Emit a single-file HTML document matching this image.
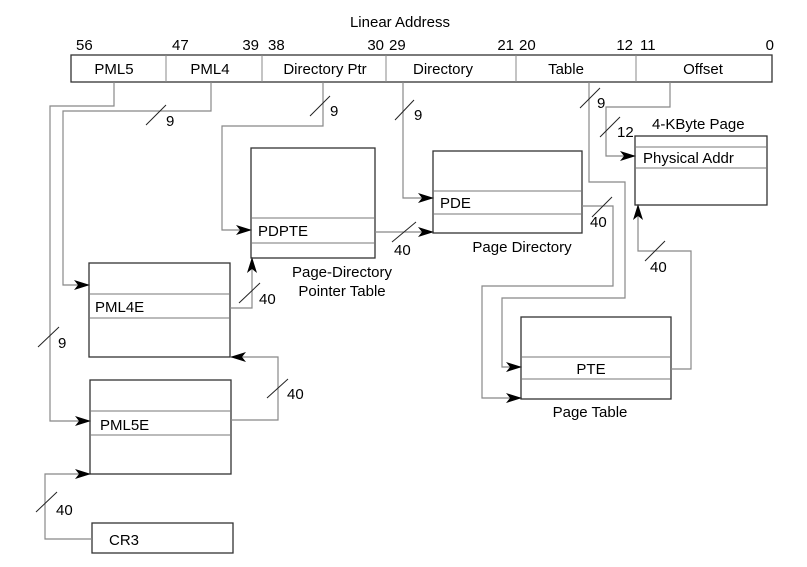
<!DOCTYPE html>
<html><head><meta charset="utf-8"><style>
html,body{margin:0;padding:0;background:#fff;}
svg{display:block;}
text{font-family:"Liberation Sans",Arial,sans-serif;font-size:15px;fill:#000;}
</style></head><body>
<svg width="807" height="567" viewBox="0 0 807 567" xmlns="http://www.w3.org/2000/svg">
<defs>
<marker id="a" markerWidth="16" markerHeight="10" refX="15" refY="5" orient="auto" markerUnits="userSpaceOnUse">
<path d="M0,0 L16,5 L0,10 L4,5 Z" fill="#000"/>
</marker>
</defs>
<text x="400" y="27" text-anchor="middle">Linear Address</text>
<g>
<text x="76" y="50">56</text>
<text x="172" y="50">47</text>
<text x="259" y="50" text-anchor="end">39</text>
<text x="268" y="50">38</text>
<text x="384" y="50" text-anchor="end">30</text>
<text x="389" y="50">29</text>
<text x="514" y="50" text-anchor="end">21</text>
<text x="519" y="50">20</text>
<text x="633" y="50" text-anchor="end">12</text>
<text x="640" y="50">11</text>
<text x="774" y="50" text-anchor="end">0</text>
</g>
<rect x="71" y="55" width="701" height="27" fill="none" stroke="#333" stroke-width="1.3"/>
<g stroke="#888" stroke-width="1">
<line x1="166" y1="55" x2="166" y2="82"/>
<line x1="262" y1="55" x2="262" y2="82"/>
<line x1="386" y1="55" x2="386" y2="82"/>
<line x1="516" y1="55" x2="516" y2="82"/>
<line x1="636" y1="55" x2="636" y2="82"/>
</g>
<text x="114" y="74" text-anchor="middle">PML5</text>
<text x="210" y="74" text-anchor="middle">PML4</text>
<text x="325" y="74" text-anchor="middle">Directory Ptr</text>
<text x="443" y="74" text-anchor="middle">Directory</text>
<text x="566" y="74" text-anchor="middle">Table</text>
<text x="703" y="74" text-anchor="middle">Offset</text>

<g fill="none" stroke="#333" stroke-width="1.3">
<rect x="635" y="136" width="132" height="69"/>
<rect x="433" y="151" width="149" height="82"/>
<rect x="251" y="148" width="124" height="110"/>
<rect x="89" y="263" width="141" height="94"/>
<rect x="90" y="380" width="141" height="94"/>
<rect x="92" y="523" width="141" height="30"/>
<rect x="521" y="317" width="150" height="82"/>
</g>
<g stroke="#777" stroke-width="1">
<line x1="635" y1="147" x2="767" y2="147"/><line x1="635" y1="168" x2="767" y2="168"/>
<line x1="433" y1="191" x2="582" y2="191"/><line x1="433" y1="214" x2="582" y2="214"/>
<line x1="251" y1="218" x2="375" y2="218"/><line x1="251" y1="243" x2="375" y2="243"/>
<line x1="89" y1="294" x2="230" y2="294"/><line x1="89" y1="318" x2="230" y2="318"/>
<line x1="90" y1="411" x2="232" y2="411"/><line x1="90" y1="435" x2="231" y2="435"/>
<line x1="521" y1="357" x2="671" y2="357"/><line x1="521" y1="379" x2="671" y2="379"/>
</g>
<text x="652" y="129">4-KByte Page</text>
<text x="643" y="163">Physical Addr</text>
<text x="440" y="208">PDE</text>
<text x="522" y="252" text-anchor="middle">Page Directory</text>
<text x="258" y="236">PDPTE</text>
<text x="342" y="277" text-anchor="middle">Page-Directory</text>
<text x="342" y="296" text-anchor="middle">Pointer Table</text>
<text x="95" y="312">PML4E</text>
<text x="100" y="430">PML5E</text>
<text x="109" y="545">CR3</text>
<text x="591" y="374" text-anchor="middle">PTE</text>
<text x="590" y="417" text-anchor="middle">Page Table</text>

<g fill="none" stroke="#888" stroke-width="1.2">
<polyline points="114,82 114,106 50,106 50,421 90,421" marker-end="url(#a)"/>
<polyline points="211,82 211,111 63,111 63,285 89,285" marker-end="url(#a)"/>
<polyline points="323,82 323,126 222,126 222,230 251,230" marker-end="url(#a)"/>
<polyline points="403,82 403,198 433,198" marker-end="url(#a)"/>
<polyline points="589,82 589,182 625,182 625,298 502,298 502,367 521,367" marker-end="url(#a)"/>
<polyline points="670,82 670,107 606,107 606,156 635,156" marker-end="url(#a)"/>
<polyline points="375,232 433,232" marker-end="url(#a)"/>
<polyline points="582,206 613,206 613,286 482,286 482,398 521,398" marker-end="url(#a)"/>
<polyline points="671,369 691,369 691,251 638,251 638,205" marker-end="url(#a)"/>
<polyline points="230,308 252,308 252,258" marker-end="url(#a)"/>
<polyline points="231,420 278,420 278,357 231,357" marker-end="url(#a)"/>
<polyline points="92,539 45,539 45,474 90,474" marker-end="url(#a)"/>
</g>
<g stroke="#222" stroke-width="1">
<line x1="146" y1="125" x2="166" y2="105"/>
<line x1="310" y1="116" x2="330" y2="96"/>
<line x1="395" y1="120" x2="414" y2="100"/>
<line x1="580" y1="108" x2="600" y2="88"/>
<line x1="600" y1="137" x2="620" y2="117"/>
<line x1="392" y1="242" x2="416" y2="222"/>
<line x1="592" y1="217" x2="612" y2="197"/>
<line x1="645" y1="261" x2="665" y2="241"/>
<line x1="239" y1="303" x2="260" y2="283"/>
<line x1="38" y1="347" x2="59" y2="327"/>
<line x1="267" y1="398" x2="288" y2="379"/>
<line x1="36" y1="512" x2="57" y2="492"/>
</g>
<text x="166" y="126">9</text>
<text x="330" y="116">9</text>
<text x="414" y="120">9</text>
<text x="597" y="108">9</text>
<text x="617" y="137">12</text>
<text x="394" y="255">40</text>
<text x="590" y="227">40</text>
<text x="650" y="272">40</text>
<text x="259" y="304">40</text>
<text x="58" y="348">9</text>
<text x="287" y="399">40</text>
<text x="56" y="515">40</text>
</svg>
</body></html>
